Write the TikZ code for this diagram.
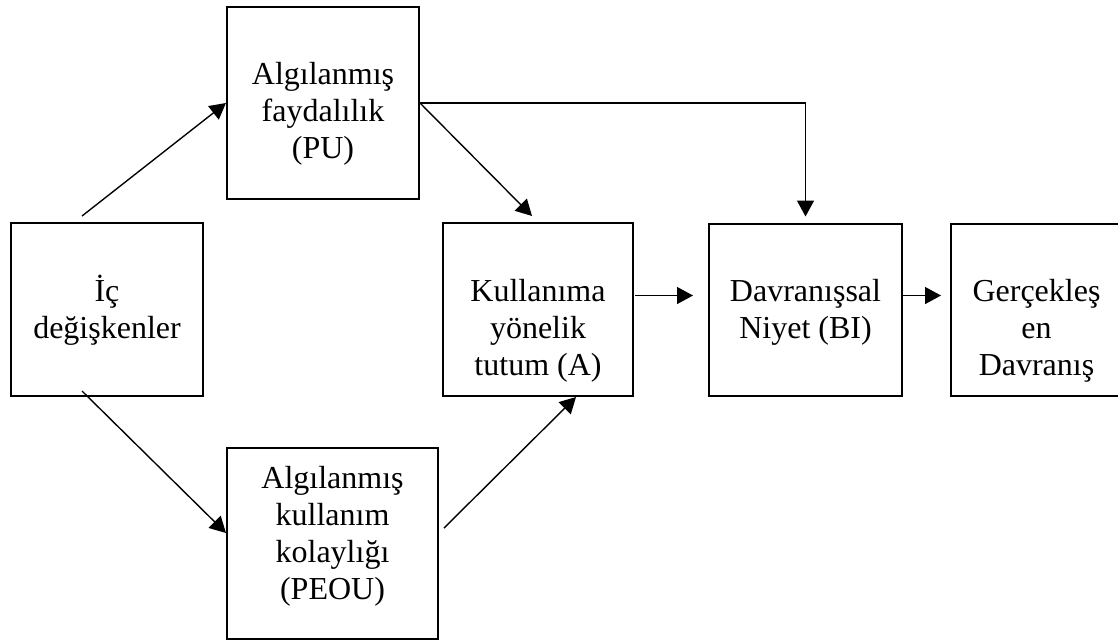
\documentclass[tikz,border=0pt]{standalone}
\usepackage{fontspec}
\setmainfont{Liberation Serif}
\usetikzlibrary{arrows.meta,positioning,calc}

% box content: width, height, first baseline, lines
\newcommand{\boxtext}[4]{\parbox[c][#2][t]{#1}{\centering\rule{0pt}{#3}#4}}

\begin{document}
\begin{tikzpicture}[
    x=0.4pt, y=-0.4pt,
    every node/.style={font=\fontsize{12.8}{14.8}\selectfont},
    box/.style={rectangle, draw, line width=0.8pt, inner sep=0pt},
    arr/.style={-{Triangle[length=6.4pt, width=6.8pt]}, line width=0.55pt},
]
\useasboundingbox (0,0) rectangle (1118,642);

% Nodes
\node[box, anchor=north west] (ic)   at (10,222)  {\boxtext{76.8pt}{69.2pt}{31.2pt}{İç\\değişkenler}};
\node[box, anchor=north west] (pu)   at (226,6)   {\boxtext{76.8pt}{76.8pt}{30.8pt}{Algılanmış\\faydalılık\\(PU)}};
\node[box, anchor=north west] (peou) at (226,447) {\boxtext{84.4pt}{76.4pt}{16pt}{Algılanmış\\kullanım\\kolaylığı\\(PEOU)}};
\node[box, anchor=north west] (a)    at (442,222) {\boxtext{76pt}{69.2pt}{31.2pt}{Kullanıma\\yönelik\\tutum (A)}};
\node[box, right=29.6pt of a]  (bi)  {\boxtext{77.2pt}{68.8pt}{31.2pt}{Davranışsal\\Niyet (BI)}};
\node[box, right=18.8pt of bi] (ger) {\boxtext{68.4pt}{68.8pt}{31.2pt}{Gerçekleş\\en\\Davranış}};

% Arrows
\draw[arr] ($(ic.north west)+(72,-6)$) -- (pu.west);
\draw[arr] ($(ic.south west)+(72,-6)$) -- ($(peou.north west)+(0,86)$);
\draw[arr] (pu.east) -- ($(a.north west)+(90,-6)$);
\draw[arr] (pu.east) -| ($(bi.north)+(0,-6)$);
\draw[arr] ($(peou.north east)+(5,81)$) -- ($(a.south west)+(134,0)$);
\draw[arr] ($(a.east)+(1,-14)$) -- ($(bi.west)+(-15,-14)$);
\draw[arr] ($(bi.east)+(0,-14)$) -- ($(ger.west)+(-9,-14)$);
\end{tikzpicture}
\end{document}
